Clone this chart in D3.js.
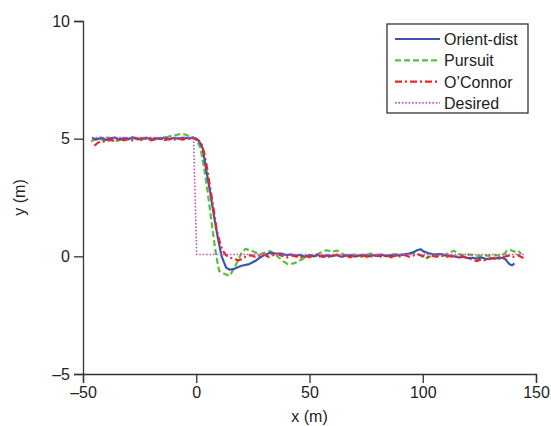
<!DOCTYPE html>
<html>
<head>
<meta charset="utf-8">
<script src="https://cdn.jsdelivr.net/npm/d3@7"></script>
<style>
  body { margin: 0; background: #fff; }
  svg { display: block; font-family: "Liberation Sans", Arial, sans-serif; }
</style>
</head>
<body>
<svg id="svg"></svg>
<script>
// values, [x (m), y (m)]
const orientDist = [
  [-46,5.02],[-44,4.97],[-42,5.04],[-40,4.95],[-38,5.0],[-36,5.05],[-34,4.96],[-32,5.03],[-30,4.98],[-28,5.06],
  [-26,4.97],[-24,5.01],[-22,5.04],[-20,4.96],[-18,5.02],[-16,4.99],[-14,5.05],[-12,4.97],[-10,5.03],[-8,5.0],
  [-6,5.04],[-4,5.02],[-2,5.03],[0,5.0],[1.2,4.9],[2.8,4.6],[4.7,3.5],[6.2,2.7],[8.1,1.55],[9.7,0.7],
  [11.2,0.0],[13.2,-0.48],[14.8,-0.57],[17,-0.52],[20,-0.4],[23.4,-0.33],[26,-0.2],[28,-0.06],[30,0.05],[32.7,0.15],
  [35,0.12],[37.4,0.12],[40,0.05],[42,0.08],[44,0.03],[46,0.06],[48,-0.02],[50,0.05],[52,0.0],[54,0.06],
  [56,-0.03],[58,0.04],[60,0.01],[62,0.07],[64,-0.02],[66,0.03],[68,0.05],[70,-0.01],[72,0.04],[74,0.06],
  [76,0.0],[78,0.05],[80,0.02],[82,0.07],[84,0.01],[86,0.05],[88,0.03],[90,0.06],[92,0.08],[94,0.12],
  [96,0.18],[97.5,0.26],[99,0.3],[100.5,0.2],[102,0.15],[104,0.1],[106,0.08],[108,0.1],[110,0.04],[112,0.02],
  [114,0.0],[116,-0.05],[118,-0.02],[120,-0.08],[122,-0.06],[124,-0.1],[126,-0.05],[128,-0.12],[130,-0.08],[132,-0.1],
  [134,-0.05],[135.5,-0.08],[136.5,-0.12],[137.5,-0.25],[138.5,-0.35],[139.5,-0.38],[140.5,-0.3]
];

const pursuit = [
  [-46.4,4.88],[-45,4.95],[-43,5.02],[-41,4.93],[-39,5.05],[-37,4.97],[-35,4.9],[-33,4.98],[-31,5.03],[-29,4.95],
  [-27,5.04],[-25,4.92],[-23,5.0],[-21,5.05],[-19,4.96],[-17,5.02],[-15,4.98],[-13,5.07],[-11,5.12],[-9,5.15],
  [-7,5.2],[-5,5.18],[-3,5.1],[-1,5.05],[0,4.97],[1.9,4.6],[3.9,3.5],[5.5,2.4],[7,1.27],[8.6,0.15],
  [10.1,-0.62],[12.5,-0.75],[14.8,-0.83],[16.4,-0.55],[18.7,-0.13],[20,0.15],[21.8,0.32],[23.5,0.25],[25,0.22],[28,0.08],
  [30,0.15],[32.7,0.22],[34.5,0.1],[36.6,-0.06],[38.5,-0.22],[40.5,-0.33],[43,-0.3],[45.2,-0.2],[47.5,-0.08],[50,0.0],
  [52,0.05],[54,0.12],[56,0.2],[57.6,0.26],[60,0.2],[62.3,0.24],[64,0.12],[66,0.05],[68.5,0.04],[71,0.1],
  [73,-0.02],[75,0.06],[77,0.12],[79,0.02],[81,0.08],[84,0.0],[86,0.07],[88,0.1],[90,0.03],[92,0.08],
  [94,0.12],[96.6,0.15],[99,0.05],[101,-0.1],[103,-0.02],[105,0.05],[107,0.08],[109,0.02],[111,0.12],[113.7,0.24],
  [116,0.1],[118,0.05],[120,0.08],[123,0.04],[125,0.0],[127,0.06],[129,0.02],[131,0.05],[134,0.03],[136,0.1],
  [137,0.22],[139,0.26],[140.5,0.2],[142,0.25],[143.5,0.1]
];

const oConnor = [
  [-45,4.7],[-43.5,4.82],[-42,4.9],[-40,4.86],[-38,4.95],[-36,4.9],[-34,5.0],[-32,4.93],[-30,4.98],[-28,4.92],
  [-26,5.02],[-24,4.95],[-22,5.0],[-20,4.93],[-18,4.98],[-16,5.01],[-14,4.94],[-12,4.99],[-10,4.95],[-8,5.0],
  [-6,4.96],[-4,5.02],[-2,4.98],[-0.8,5.0],[1,4.92],[2.3,4.8],[3.5,4.4],[4.7,3.8],[6,3.0],[7,2.4],
  [8,1.8],[9,1.13],[10,0.75],[10.9,0.43],[12,0.2],[13.2,0.04],[14.8,-0.05],[16.4,-0.1],[18.7,-0.17],[20,-0.12],
  [21.8,-0.01],[24,0.05],[26,-0.02],[28,0.03],[30,0.08],[32,-0.03],[34,0.05],[36,0.1],[38,0.02],[40,-0.05],
  [42,0.04],[44,0.0],[46,-0.06],[48,0.03],[50,-0.04],[52,0.05],[54,-0.02],[56,0.04],[58,-0.05],[60,0.02],
  [62,0.06],[64,-0.03],[66,0.03],[68,-0.04],[70,0.05],[72,-0.02],[74,0.04],[76,-0.05],[78,0.02],[80,0.06],
  [82,-0.03],[84,0.03],[86,-0.04],[88,0.05],[90,0.0],[92,0.06],[94,-0.02],[96,0.04],[98,0.08],[100,0.02],
  [102,-0.04],[104,0.03],[106,-0.02],[108,0.05],[110,-0.03],[112,0.02],[114,-0.05],[116,0.04],[118,-0.03],[120,-0.08],
  [122,-0.15],[124,-0.2],[126,-0.12],[128,-0.18],[130,-0.1],[132,-0.06],[134,-0.1],[136,-0.02],[138,0.03],[140,-0.02],
  [142,0.05],[144,-0.05],[145,-0.1]
];

const desired = [[-46,5.05],[-1.2,5.05],[0.2,0.08],[145,0.08]];

const xTicks = [-50, 0, 50, 100, 150];
const yTicks = [-5, 0, 5, 10];

const seriesNames = ['Orient-dist', 'Pursuit', "O\u2019Connor", 'Desired'];

const width = 551;
const height = 426;

const svg = d3.select('#svg')
  .attr('width', width)
  .attr('height', height);

const xScale = d3.scaleLinear()
  .domain([-50, 150])
  .range([83, 536]);

const yScale = d3.scaleLinear()
  .domain([-5, 10])
  .range([374, 21]);

const fmt = d => d < 0 ? '\u2013' + Math.abs(d) : String(d);

// axes
const xAxis = svg.append('g')
  .attr('transform', `translate(0,${yScale(-5)})`)
  .call(d3.axisBottom(xScale).tickValues(xTicks).tickSize(9).tickPadding(4).tickFormat(fmt));

const yAxis = svg.append('g')
  .attr('transform', `translate(${xScale(-50)},0)`)
  .call(d3.axisLeft(yScale).tickValues(yTicks).tickSize(9).tickPadding(4).tickFormat(fmt));

[xAxis, yAxis].forEach(ax => {
  ax.select('.domain').attr('stroke', '#333').attr('stroke-width', 1.3);
  ax.selectAll('.tick line').attr('stroke', '#333').attr('stroke-width', 1.3);
  ax.selectAll('.tick text')
    .attr('fill', '#222')
    .attr('font-size', '16px')
    .attr('font-family', '"Liberation Sans", Arial, sans-serif');
});

// axis titles
svg.append('text')
  .attr('x', xScale(50))
  .attr('y', 422)
  .attr('text-anchor', 'middle')
  .attr('font-size', '16px')
  .attr('fill', '#222')
  .text('x (m)');

svg.append('text')
  .attr('transform', `translate(25,${yScale(2.5)}) rotate(-90)`)
  .attr('text-anchor', 'middle')
  .attr('font-size', '16px')
  .attr('fill', '#222')
  .text('y (m)');

// lines
const line = d3.line()
  .x(d => xScale(d[0]))
  .y(d => yScale(d[1]));

const styles = [
  { color: '#3a56b0', dash: null, w: 2.2 },
  { color: '#5cbf3a', dash: '6,3', w: 2.2 },
  { color: '#ee2424', dash: '7,3,2,3', w: 2.2 },
  { color: '#c455b4', dash: '1.6,1.8', w: 1.6 }
];

const drawOrder = [
  { data: pursuit, s: styles[1] },
  { data: orientDist, s: styles[0] },
  { data: oConnor, s: styles[2] },
  { data: desired, s: styles[3] }
];

drawOrder.forEach(o => {
  svg.append('path')
    .datum(o.data)
    .attr('d', line)
    .attr('fill', 'none')
    .attr('stroke', o.s.color)
    .attr('stroke-width', o.s.w)
    .attr('stroke-dasharray', o.s.dash)
    .attr('stroke-linejoin', 'round');
});

// legend
const legend = svg.append('g');
legend.append('rect')
  .attr('x', 387)
  .attr('y', 24)
  .attr('width', 141)
  .attr('height', 89)
  .attr('fill', '#fff')
  .attr('stroke', '#333')
  .attr('stroke-width', 1.3);

seriesNames.forEach((name, i) => {
  const yy = 39 + i * 21.3;
  legend.append('line')
    .attr('x1', 395).attr('x2', 440)
    .attr('y1', yy).attr('y2', yy)
    .attr('stroke', styles[i].color)
    .attr('stroke-width', styles[i].w)
    .attr('stroke-dasharray', styles[i].dash);
  legend.append('text')
    .attr('x', 444)
    .attr('y', yy + 6)
    .attr('font-size', '16px')
    .attr('fill', '#222')
    .text(name);
});
</script>
</body>
</html>
